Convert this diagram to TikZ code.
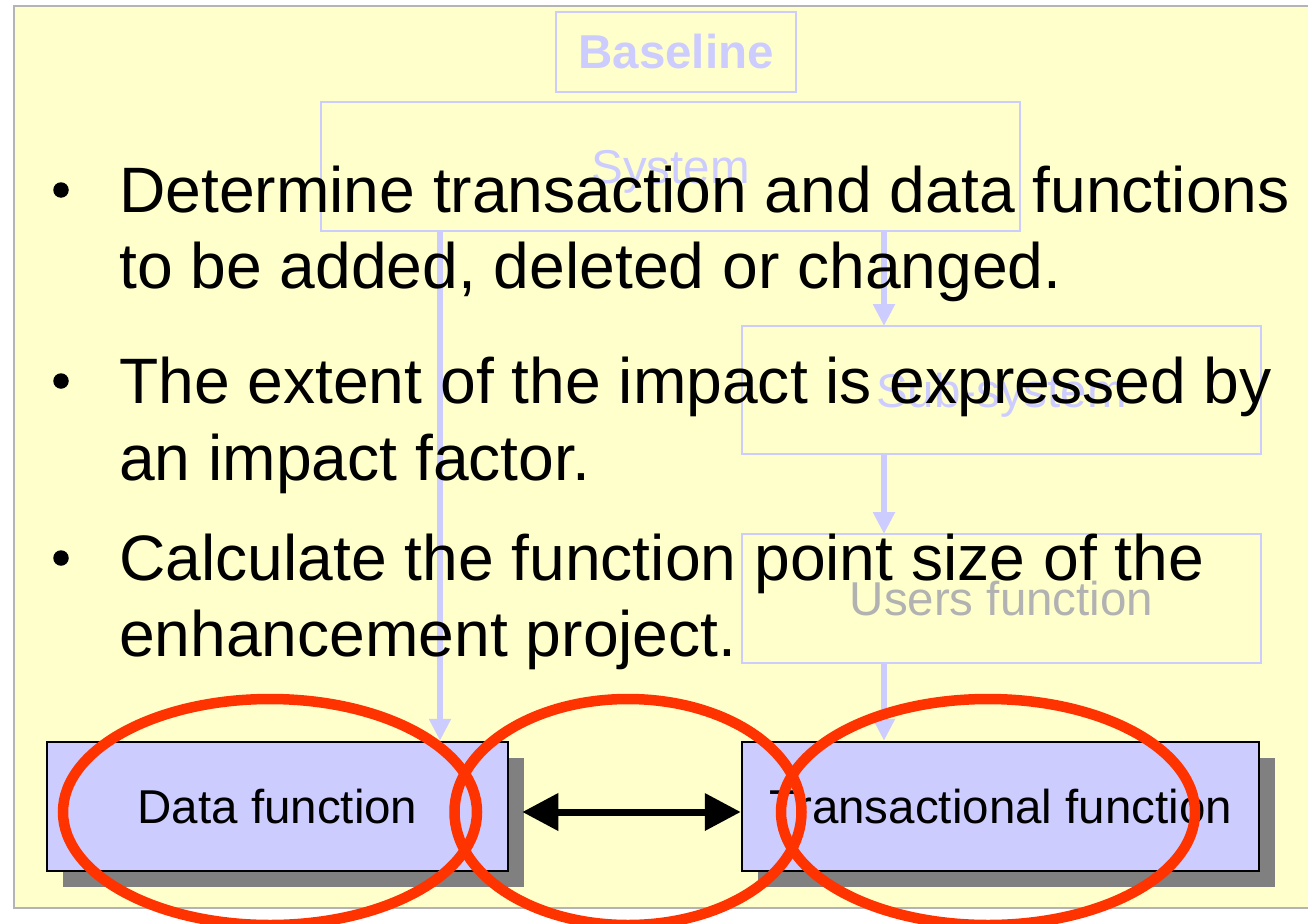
\documentclass[tikz,border=0pt]{standalone}
\usepackage{fontspec}
\setmainfont{Liberation Sans}
\usetikzlibrary{arrows.meta,shadows,shapes.geometric}

\definecolor{panelbg}{HTML}{FFFFCC}
\definecolor{panelrule}{HTML}{B4B4B4}
\definecolor{paleblue}{HTML}{CCCCFF}
\definecolor{boxfill}{HTML}{CCCCFF}
\definecolor{shadowgray}{HTML}{808080}
\definecolor{ringred}{HTML}{FF3300}
\definecolor{fadedgray}{HTML}{B2B2B2}

\begin{document}
\begin{tikzpicture}[x=1pt,y=-1pt,
  palebox/.style={draw=paleblue, line width=2pt, inner sep=0pt, outer sep=0pt,
    text=paleblue, font=\fontsize{47.5}{57}\selectfont,
    text height=34pt, text depth=0pt},
  paleconn/.style={draw=paleblue, line width=6pt,
    -{Triangle[width=21pt,length=22pt]}},
  funcbox/.style={draw=black, line width=2.5pt, fill=boxfill, inner sep=0pt,
    font=\fontsize{47.5}{57}\selectfont, text height=34pt, text depth=0pt,
    general shadow={fill=shadowgray, draw=none, shadow xshift=16pt, shadow yshift=-16pt}},
  bodyline/.style={anchor=base west, inner sep=0pt, font=\fontsize{64.2}{76}\selectfont},
  bulletdot/.style={circle, fill=black, inner sep=0pt, minimum size=15.5pt},
  linkarrow/.style={draw=black, line width=7pt,
    {Triangle[width=36pt,length=36pt]}-{Triangle[width=36pt,length=36pt]}},
  ring/.style={ellipse, draw=ringred, line width=10.5pt, inner sep=0pt,
    minimum height=226pt}
]
\useasboundingbox (0,0) rectangle (1308,923);
\clip (0,0) rectangle (1308,923);

% slide panel
\fill[white] (0,0) rectangle (1308,923);
\filldraw[fill=panelbg, draw=panelrule, line width=2pt] (14,6) rectangle (1330,908);

% faded hierarchy boxes
\node[palebox, font=\bfseries\fontsize{47.5}{57}\selectfont,
      minimum width=240pt, minimum height=80pt] (baseline) at (676,52) {Baseline};
\node[palebox, minimum width=699pt, minimum height=129pt] (system) at (670.5,166.5) {System};
\node[palebox, minimum width=519pt, minimum height=128pt] (subsystem) at (1001.5,390) {Sub-system};
\node[palebox, text=fadedgray, minimum width=519pt, minimum height=129pt] (users) at (1001.5,598.5) {Users function};

% function boxes
\node[funcbox, minimum width=461pt, minimum height=129pt] (datafn) at (277.5,806.5) {Data function};
\node[funcbox, minimum width=517pt, minimum height=129pt] (transfn) at (1000.5,806.5) {Transactional function};

% faded connectors
\coordinate (lx) at (440,0);
\coordinate (rx) at (884,0);
\draw[paleconn] (system.south -| lx) -- (datafn.north -| lx);
\draw[paleconn] (system.south -| rx) -- (subsystem.north -| rx);
\draw[paleconn] (subsystem.south -| rx) -- (users.north -| rx);
\draw[paleconn] (users.south -| rx) -- (transfn.north -| rx);

% bullet text
\node[bulletdot] (b1) at (61,190) {};
\node[bodyline] (t1a) at (119,212) {Determine transaction and data functions};
\node[bodyline] (t1b) at (119,288) {to be added, deleted or changed.};
\node[bulletdot] (b2) at (61,381) {};
\node[bodyline] (t2a) at (119,403) {The extent of the impact is expressed by};
\node[bodyline] (t2b) at (119,480) {an impact factor.};
\node[bulletdot] (b3) at (61,558) {};
\node[bodyline] (t3a) at (119,580) {Calculate the function point size of the};
\node[bodyline] (t3b) at (119,656) {enhancement project.};

% two-way link between the function boxes
\draw[linkarrow] ([xshift=13pt,yshift=-5.5pt]datafn.east) -- ([yshift=-5.5pt]transfn.west);

% highlight rings
\node[ring, minimum width=414pt] (ring1) at (270,812) {};
\node[ring, minimum width=347pt] (ring2) at (628,812) {};
\node[ring, minimum width=414pt] (ring3) at (988,812) {};
\end{tikzpicture}
\end{document}
